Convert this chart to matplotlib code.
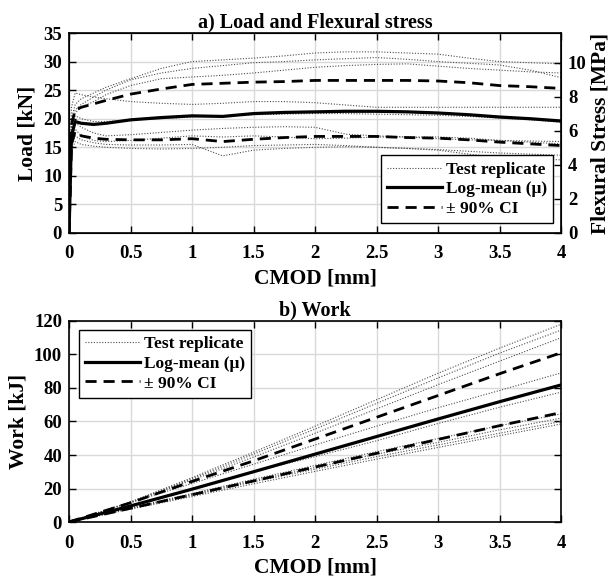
import numpy as np
import matplotlib
matplotlib.use('Agg')
import matplotlib.pyplot as plt

plt.rcParams['font.family'] = ['Liberation Serif', 'DejaVu Serif']
plt.rcParams['font.weight'] = 'bold'
plt.rcParams['axes.labelweight'] = 'bold'
plt.rcParams['axes.titleweight'] = 'bold'

# ---- a) load vs CMOD ----
cmod_load = [0, 0.02, 0.05, 0.1, 0.2, 0.3, 0.5, 0.75, 1.0, 1.25, 1.5, 1.75,
             2.0, 2.25, 2.5, 2.75, 3.0, 3.25, 3.5, 3.75, 4.0]

load_mean = [0, 17, 19.5, 19.2, 19.0, 19.2, 19.8, 20.2, 20.5, 20.4, 20.9, 21.1,
             21.2, 21.3, 21.3, 21.2, 21.0, 20.7, 20.3, 20.0, 19.6]
load_upper = [0, 19, 21.5, 22.0, 22.6, 23.2, 24.3, 25.2, 26.0, 26.2, 26.4, 26.5,
              26.7, 26.7, 26.7, 26.7, 26.6, 26.3, 25.8, 25.6, 25.3]
load_lower = [0, 15.5, 17.8, 17.0, 16.6, 16.4, 16.3, 16.3, 16.5, 16.0, 16.4, 16.7,
              16.9, 16.9, 16.9, 16.7, 16.6, 16.3, 15.9, 15.6, 15.3]

load_reps = [
    [0, 20, 22.5, 23.5, 24.5, 25.5, 27.0, 28.8, 30.0, 30.3, 30.6, 31.0, 31.5, 31.7, 31.7, 31.5, 31.3, 30.6, 30.0, 29.8, 29.6],
    [0, 19.5, 21.5, 22.5, 23.8, 25.0, 26.8, 28.0, 28.8, 29.3, 29.8, 30.0, 30.3, 30.5, 30.7, 30.4, 30.0, 29.7, 29.4, 28.5, 27.2],
    [0, 19, 21.0, 22.0, 23.0, 24.2, 25.8, 27.0, 27.3, 27.6, 28.0, 28.5, 29.0, 29.3, 29.5, 29.6, 29.2, 28.8, 28.5, 28.2, 28.0],
    [0, 22, 24.5, 24.2, 23.8, 23.5, 23.0, 22.7, 22.5, 22.7, 23.0, 23.0, 22.8, 22.4, 22.0, 22.0, 22.0, 22.0, 22.0, 22.0, 22.0],
    [0, 18, 20.5, 20.0, 19.5, 19.5, 19.8, 20.0, 20.3, 20.5, 20.7, 20.8, 20.9, 20.9, 20.8, 20.7, 20.6, 20.4, 20.1, 19.8, 19.4],
    [0, 17.5, 19.3, 18.5, 17.5, 17.0, 17.2, 17.6, 18.0, 18.3, 18.5, 18.6, 18.5, 17.3, 17.0, 16.8, 16.8, 16.6, 16.2, 15.9, 15.6],
    [0, 16.5, 18.2, 17.0, 16.2, 16.0, 16.2, 16.6, 17.0, 16.8, 17.0, 16.8, 16.5, 16.6, 16.8, 16.8, 16.5, 16.3, 16.2, 16.1, 16.0],
    [0, 15.5, 17.0, 16.3, 15.8, 15.5, 15.4, 15.4, 15.5, 13.5, 14.5, 14.8, 15.0, 15.1, 15.0, 14.8, 14.5, 13.8, 13.2, 13.0, 12.8],
    [0, 14.5, 16.0, 15.5, 15.2, 15.0, 14.8, 14.7, 14.8, 15.0, 15.3, 15.4, 15.5, 15.3, 15.0, 14.8, 14.6, 14.3, 14.0, 13.8, 13.6],
]

# ---- b) work vs CMOD ----
cmod_work = [0, 0.5, 1, 1.5, 2, 2.5, 3, 3.5, 4]
work_mean = [0, 9.6, 19.6, 30, 40.5, 51, 61.5, 71.8, 81.8]
work_upper = [0, 11.5, 24.2, 36.5, 49.5, 62.5, 75.5, 88.5, 101]
work_lower = [0, 8.2, 16.3, 24.5, 32.8, 41, 49.3, 57.5, 65.3]
work_reps = [
    [0, 12, 26.5, 41.7, 57.2, 73, 88.8, 103.8, 118],
    [0, 11.8, 25.8, 40.5, 55.5, 70.8, 86, 100.8, 114.5],
    [0, 11.5, 25, 38.8, 53, 67.5, 82, 96, 110],
    [0, 11.7, 23, 34.5, 46, 57.2, 68.2, 78.5, 89],
    [0, 9.8, 19.5, 30, 39, 48.5, 58.8, 68.5, 77.5],
    [0, 8.5, 17, 25.5, 33.8, 42, 49.8, 57.5, 64.5],
    [0, 8.3, 16.5, 24.7, 32.5, 40.5, 47.5, 55, 62],
    [0, 8, 16, 24, 31.5, 39, 46, 53, 60],
    [0, 7.7, 15.2, 22.8, 30.2, 37.5, 44.5, 51.5, 58.5],
]

cmod_ticks = [0, 0.5, 1, 1.5, 2, 2.5, 3, 3.5, 4]
cmod_ticklabels = ['0', '0.5', '1', '1.5', '2', '2.5', '3', '3.5', '4']
stress_per_kN = 0.336

rep_style = dict(color='0.3', lw=0.8, linestyle=(0, (1, 1.5)))
mean_style = dict(color='black', lw=2.3, linestyle='-')
ci_style = dict(color='black', lw=2.0, linestyle=(0, (4, 2.5)))
leg_kw = dict(fontsize=12.5, handlelength=3.2, fancybox=False, edgecolor='black',
              framealpha=1, labelspacing=0.2, handletextpad=0.2,
              borderpad=0.35, borderaxespad=0)


def style_axes(ax):
    ax.grid(True, color='#d9d9d9', lw=1.0)
    ax.set_axisbelow(True)
    ax.tick_params(axis='x', direction='in', length=5, width=1, labelsize=13.5,
                   top=True, pad=9)
    ax.tick_params(axis='y', direction='in', length=5, width=1, labelsize=13.5,
                   pad=5)
    for s in ax.spines.values():
        s.set_linewidth(1.2)
    for lab in ax.get_xticklabels() + ax.get_yticklabels():
        lab.set_fontweight('bold')


fig = plt.figure(figsize=(6.13, 5.77), dpi=100)
ax1 = fig.add_axes([0.1126, 0.5962, 0.8026, 0.3466])
ax2 = fig.add_axes([0.1126, 0.0953, 0.8026, 0.3484])

for i, r in enumerate(load_reps):
    ax1.plot(cmod_load, r, label='Test replicate' if i == 0 else None, **rep_style)
ax1.plot(cmod_load, load_mean, label='Log-mean (μ)', **mean_style)
ax1.plot(cmod_load, load_upper, label='± 90% CI', **ci_style)
ax1.plot(cmod_load, load_lower, **ci_style)
ax1.set_xlim(0, 4)
ax1.set_ylim(0, 35)
ax1.set_xticks(cmod_ticks)
ax1.set_xticklabels(cmod_ticklabels)
ax1.set_yticks(range(0, 36, 5))
ax1.set_xlabel('CMOD [mm]', fontsize=15.5, labelpad=4)
ax1.set_ylabel('Load [kN]', fontsize=15.5, labelpad=4)
ax1.set_title('a) Load and Flexural stress', fontsize=14.5, pad=4)
style_axes(ax1)
leg1 = ax1.legend(loc='lower right', bbox_to_anchor=(0.984, 0.05), **leg_kw)
leg1.get_frame().set_linewidth(1.0)

axr = ax1.twinx()
axr.set_ylim(0, 35 * stress_per_kN)
axr.set_yticks([0, 2, 4, 6, 8, 10])
axr.set_ylabel('Flexural Stress [MPa]', fontsize=15.5, labelpad=3)
axr.tick_params(direction='in', length=5, width=1, labelsize=13.5, pad=5)
for lab in axr.get_yticklabels():
    lab.set_fontweight('bold')

for i, r in enumerate(work_reps):
    ax2.plot(cmod_work, r, label='Test replicate' if i == 0 else None, **rep_style)
ax2.plot(cmod_work, work_mean, label='Log-mean (μ)', **mean_style)
ax2.plot(cmod_work, work_upper, label='± 90% CI', **ci_style)
ax2.plot(cmod_work, work_lower, **ci_style)
ax2.set_xlim(0, 4)
ax2.set_ylim(0, 120)
ax2.set_xticks(cmod_ticks)
ax2.set_xticklabels(cmod_ticklabels)
ax2.set_yticks(range(0, 121, 20))
ax2.set_xlabel('CMOD [mm]', fontsize=15.5, labelpad=4)
ax2.set_ylabel('Work [kJ]', fontsize=15.5, labelpad=4)
ax2.set_title('b) Work', fontsize=14.5, pad=4)
style_axes(ax2)
ax2.tick_params(axis='y', right=True)
leg2 = ax2.legend(loc='upper left', bbox_to_anchor=(0.02, 0.955), **leg_kw)
leg2.get_frame().set_linewidth(1.0)

fig.savefig('out.png', dpi=100)
